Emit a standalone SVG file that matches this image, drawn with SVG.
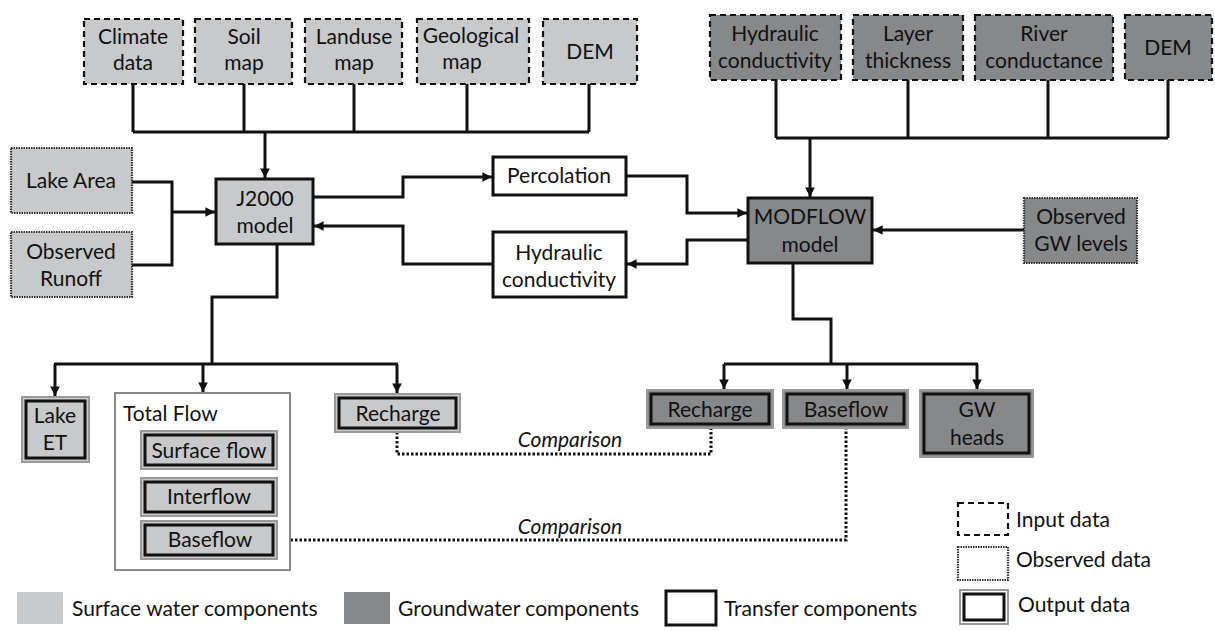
<svg xmlns="http://www.w3.org/2000/svg" width="1215" height="631" viewBox="0 0 1215 631">
<style>
text{font-family:Lato,"Open Sans","Liberation Sans",sans-serif;font-size:21px;fill:#111;text-anchor:middle}
.sw{fill:#c8c9cb}
.gw{fill:#87888a}
.in{stroke:#111;stroke-width:2.2;stroke-dasharray:6 4}
.ob{stroke:#333;stroke-width:2.2;stroke-dasharray:1.5 1}
.tr{fill:#fff;stroke:#111;stroke-width:3}
.oo{stroke:#9a9a9a;stroke-width:2}
.oi{fill:none;stroke:#111;stroke-width:3}
.ln{fill:none;stroke:#111;stroke-width:3}
.dt{fill:none;stroke:#111;stroke-width:3;stroke-dasharray:2.5 2}
.it{font-style:italic}
.st{text-anchor:start}
</style>
<defs>
<marker id="ah" viewBox="0 0 10 10" refX="10" refY="5" markerWidth="3.4" markerHeight="3.2" orient="auto" markerUnits="strokeWidth">
<path d="M0,0 L10,5 L0,10 z" fill="#111"/>
</marker>
</defs>

<g id="connectors">
<path class="ln" d="M133,84 V132 M244,84 V132 M354,84 V132 M467,84 V132 M589,84 V132 M133,132 H589"/>
<path class="ln" d="M265,132 V178" marker-end="url(#ah)"/>
<path class="ln" d="M776,80 V138 M908,80 V138 M1048,80 V138 M1168,80 V138 M776,138 H1168"/>
<path class="ln" d="M810,138 V197" marker-end="url(#ah)"/>
<path class="ln" d="M132,182 H172 V265 H132"/>
<path class="ln" d="M172,212 H215" marker-end="url(#ah)"/>
<path class="ln" d="M313,197 H403 V177 H492" marker-end="url(#ah)"/>
<path class="ln" d="M626,176 H687 V213 H747" marker-end="url(#ah)"/>
<path class="ln" d="M748,240 H687 V264 H627" marker-end="url(#ah)"/>
<path class="ln" d="M493,264 H403 V226 H314" marker-end="url(#ah)"/>
<path class="ln" d="M1024,230 H873" marker-end="url(#ah)"/>
<path class="ln" d="M277,244 V297 H212 V364 M54,364 H398"/>
<path class="ln" d="M55,364 V396" marker-end="url(#ah)"/>
<path class="ln" d="M203,364 V392" marker-end="url(#ah)"/>
<path class="ln" d="M397,364 V393" marker-end="url(#ah)"/>
<path class="ln" d="M793,263 V319 H831 V364 M724,364 H978"/>
<path class="ln" d="M724,364 V389" marker-end="url(#ah)"/>
<path class="ln" d="M847,364 V389" marker-end="url(#ah)"/>
<path class="ln" d="M977,364 V389" marker-end="url(#ah)"/>
<path class="dt" d="M397,432 V454 H711 V428"/>
<path class="dt" d="M277,540 H846 V428"/>
<text class="it" x="570" y="447">Comparison</text>
<text class="it" x="570" y="534">Comparison</text>
</g>

<g id="climate"><rect class="sw in" x="84" y="19" width="99" height="65"/><text x="133" y="44">Climate</text><text x="133" y="70">data</text></g>
<g id="soil"><rect class="sw in" x="195" y="19" width="97" height="65"/><text x="244" y="44">Soil</text><text x="244" y="70">map</text></g>
<g id="landuse"><rect class="sw in" x="305" y="19" width="97" height="65"/><text x="354" y="44">Landuse</text><text x="354" y="70">map</text></g>
<g id="geological"><rect class="sw in" x="417" y="19" width="112" height="65"/><text x="471" y="43">Geological</text><text x="462" y="69">map</text></g>
<g id="dem1"><rect class="sw in" x="543" y="19" width="94" height="65"/><text x="590" y="59">DEM</text></g>

<g id="hydcond1"><rect class="gw in" x="710" y="15" width="131" height="65"/><text x="775" y="41">Hydraulic</text><text x="775" y="68">conductivity</text></g>
<g id="layer"><rect class="gw in" x="853" y="15" width="110" height="65"/><text x="908" y="41">Layer</text><text x="908" y="68">thickness</text></g>
<g id="river"><rect class="gw in" x="975" y="15" width="138" height="65"/><text x="1044" y="41">River</text><text x="1044" y="68">conductance</text></g>
<g id="dem2"><rect class="gw in" x="1125" y="15" width="87" height="65"/><text x="1168" y="55">DEM</text></g>

<g id="lakearea"><rect class="sw ob" x="11" y="148" width="121" height="65"/><text x="71" y="188">Lake Area</text></g>
<g id="obsrunoff"><rect class="sw ob" x="11" y="232" width="121" height="65"/><text x="71" y="259">Observed</text><text x="71" y="286">Runoff</text></g>
<g id="j2000"><rect class="sw" x="216" y="179" width="97" height="65" stroke="#111" stroke-width="3"/><text x="265" y="206">J2000</text><text x="265" y="233">model</text></g>
<g id="percolation"><rect class="tr" x="493" y="157" width="133" height="38"/><text x="559" y="183">Percolation</text></g>
<g id="hydcond2"><rect class="tr" x="493" y="232" width="133" height="65"/><text x="559" y="260">Hydraulic</text><text x="559" y="287">conductivity</text></g>
<g id="modflow"><rect class="gw" x="748" y="198" width="124" height="65" stroke="#111" stroke-width="3"/><text x="810" y="224">MODFLOW</text><text x="810" y="252">model</text></g>
<g id="obsgw"><rect class="gw ob" x="1024" y="198" width="113" height="65"/><text x="1081" y="224">Observed</text><text x="1081" y="251">GW levels</text></g>

<g id="lakeet"><rect class="sw oo" x="22" y="397" width="67" height="65"/><rect class="oi" x="26" y="401" width="59" height="57"/><text x="55" y="423">Lake</text><text x="55" y="450">ET</text></g>
<g id="totalflow"><rect x="115" y="393" width="175" height="177" fill="#fff" stroke="#888" stroke-width="2"/><text class="st" x="123" y="421">Total Flow</text></g>
<g id="surfaceflow"><rect class="sw oo" x="141" y="431" width="136" height="38"/><rect class="oi" x="145" y="435" width="128" height="30"/><text x="209" y="458">Surface flow</text></g>
<g id="interflow"><rect class="sw oo" x="141" y="478" width="136" height="38"/><rect class="oi" x="145" y="482" width="128" height="30"/><text x="209" y="504">Interflow</text></g>
<g id="baseflow1"><rect class="sw oo" x="141" y="521" width="136" height="38"/><rect class="oi" x="145" y="525" width="128" height="30"/><text x="210" y="547">Baseflow</text></g>
<g id="recharge1"><rect class="sw oo" x="335" y="394" width="125" height="38"/><rect class="oi" x="339" y="398" width="117" height="30"/><text x="398" y="421">Recharge</text></g>
<g id="recharge2"><rect class="gw oo" x="647" y="390" width="126" height="38"/><rect class="oi" x="651" y="394" width="118" height="30"/><text x="710" y="417">Recharge</text></g>
<g id="baseflow2"><rect class="gw oo" x="783" y="390" width="125" height="38"/><rect class="oi" x="787" y="394" width="117" height="30"/><text x="846" y="417">Baseflow</text></g>
<g id="gwheads"><rect class="gw oo" x="920" y="390" width="113" height="67"/><rect class="oi" x="924" y="394" width="105" height="59"/><text x="977" y="417">GW</text><text x="977" y="445">heads</text></g>

<g id="legend">
<rect class="sw" x="17" y="592" width="46" height="32"/><text class="st" x="72" y="616">Surface water components</text>
<rect class="gw" x="344" y="592" width="46" height="32"/><text class="st" x="398" y="616">Groundwater components</text>
<rect class="tr" x="666" y="591" width="50" height="34"/><text class="st" x="724" y="616">Transfer components</text>
<rect fill="#fff" class="in" x="958" y="503" width="50" height="32"/><text class="st" x="1016" y="527">Input data</text>
<rect fill="#fff" class="ob" x="958" y="547" width="50" height="33"/><text class="st" x="1016" y="567">Observed data</text>
<rect fill="#fff" class="oo" x="960" y="590" width="48" height="34"/><rect class="oi" x="964" y="594" width="40" height="26"/><text class="st" x="1018" y="612">Output data</text>
</g>
</svg>
